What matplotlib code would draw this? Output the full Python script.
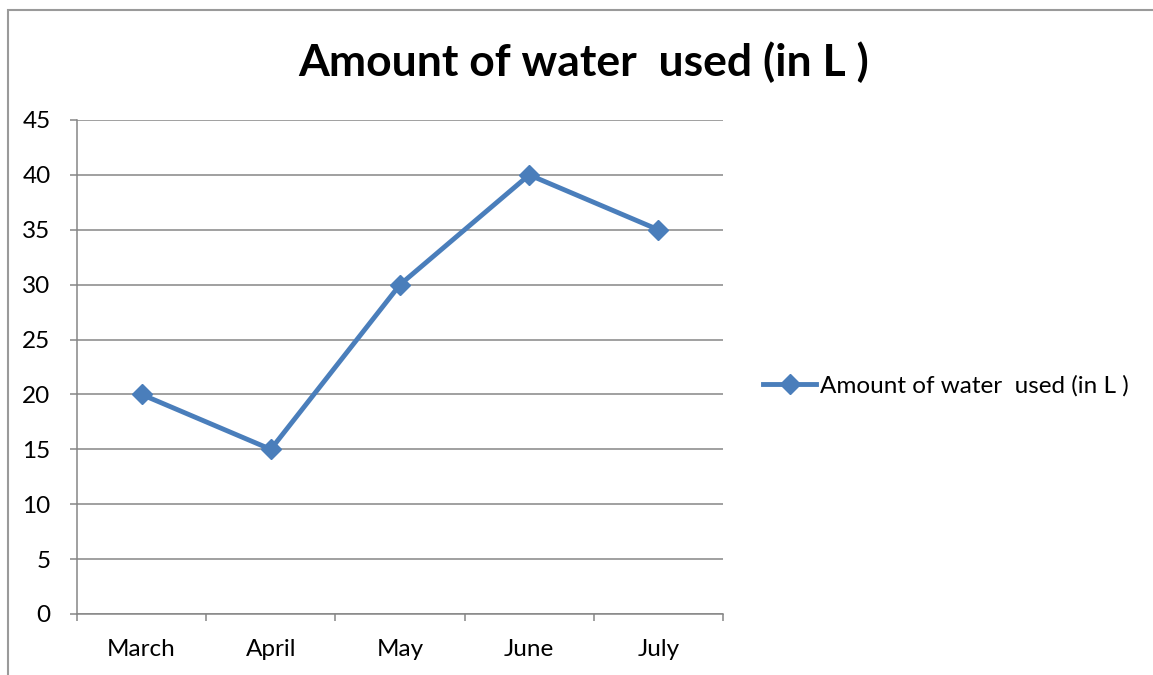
import matplotlib
matplotlib.use("Agg")
import matplotlib.pyplot as plt
from matplotlib.patches import Rectangle
from matplotlib.ticker import FixedLocator, NullFormatter, FixedFormatter

months = ["March", "April", "May", "June", "July"]
water = [20, 15, 30, 40, 35]
yticks = [0, 5, 10, 15, 20, 25, 30, 35, 40, 45]
title = "Amount of water  used (in L )"

plt.rcParams['font.family'] = ['Lato', 'DejaVu Sans']

fig = plt.figure(figsize=(11.53, 6.75), dpi=100)
fig.patch.set_facecolor('white')

# chart border
fig.patches.append(Rectangle((8/1153, -0.05), 1.2, 1 - 9.5/675 + 0.05,
                             transform=fig.transFigure, fill=False,
                             edgecolor='#9a9a9a', linewidth=1.5))

ax = fig.add_axes([77/1153, 1 - 614/675, (723-77)/1153, (614-120)/675])
x = list(range(len(months)))
ax.plot(x, water, color='#4A7EBB', linewidth=3.5, marker='D', markersize=10,
        label=title, solid_joinstyle='miter')

ax.set_xlim(-0.5, len(months) - 0.5)
ax.set_ylim(0, 45)
ax.set_yticks(yticks)
ax.yaxis.grid(True, color='#868686', linewidth=1.1)
ax.set_axisbelow(True)

ax.xaxis.set_major_locator(FixedLocator([i - 0.5 for i in range(len(months) + 1)]))
ax.xaxis.set_major_formatter(NullFormatter())
ax.xaxis.set_minor_locator(FixedLocator(x))
ax.xaxis.set_minor_formatter(FixedFormatter(months))
ax.tick_params(axis='x', which='major', length=5, color='#868686', width=1.1)
ax.tick_params(axis='x', which='minor', length=0, pad=18, labelsize=17.5)
ax.tick_params(axis='y', length=5, color='#868686', width=1.1, pad=14, labelsize=17.5)

for s in ['top', 'right']:
    ax.spines[s].set_visible(False)
for s in ['left', 'bottom']:
    ax.spines[s].set_color('#868686')
    ax.spines[s].set_linewidth(1.1)

fig.text(584/1153, 1 - 62/675, title, ha='center', va='center',
         fontsize=32, fontweight='bold')

fig.legend(loc='center left', bbox_to_anchor=(763/1153, 1 - 386/675),
           frameon=False, fontsize=17.5, handlelength=2.2, handletextpad=0.15,
           borderaxespad=0, borderpad=0)

fig.savefig('out.png', dpi=100, facecolor='white')
